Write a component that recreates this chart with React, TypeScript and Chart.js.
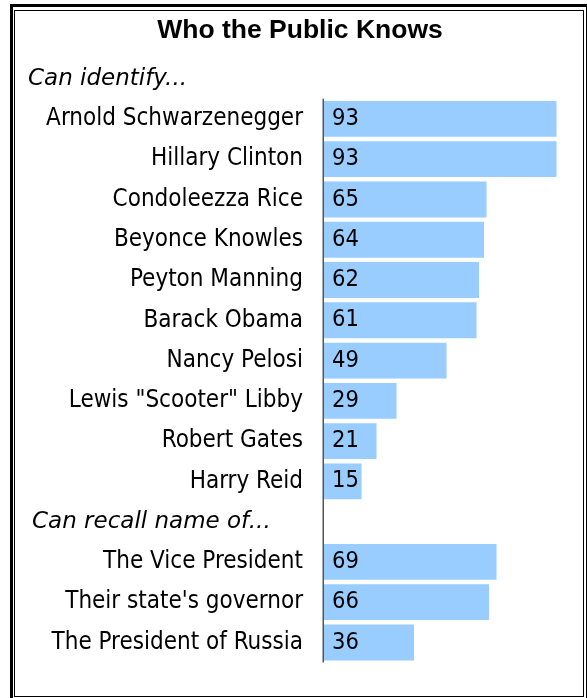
import React, { useEffect, useRef } from "react";
import { Chart, registerables } from "chart.js";

Chart.register(...registerables);

const TITLE = "Who the Public Knows";
const SECTION_HEADERS = ["Can identify...", "Can recall name of..."];
const IDENTIFY_NAMES = [
  "Arnold Schwarzenegger",
  "Hillary Clinton",
  "Condoleezza Rice",
  "Beyonce Knowles",
  "Peyton Manning",
  "Barack Obama",
  "Nancy Pelosi",
  'Lewis "Scooter" Libby',
  "Robert Gates",
  "Harry Reid",
];
const IDENTIFY_VALUES = [93, 93, 65, 64, 62, 61, 49, 29, 21, 15];
const RECALL_NAMES = ["The Vice President", "Their state's governor", "The President of Russia"];
const RECALL_VALUES = [69, 66, 36];

const BAR_COLOR = "#99CCFF";
const LABEL_FONT = '"DejaVu Sans Condensed", "DejaVu Sans"';
const HEADER_FONT = '"DejaVu Sans"';
const TITLE_FONT = '"Liberation Sans", Arial, sans-serif';

// rows: a header row (no bar) before each section
const categories: string[] = ["", ...IDENTIFY_NAMES, "", ...RECALL_NAMES];
const values: (number | null)[] = [null, ...IDENTIFY_VALUES, null, ...RECALL_VALUES];
const headerRows = [0, IDENTIFY_NAMES.length + 1];
const headerX = [28, 32];

const PAD_LEFT = 26;
const PLOT_LEFT = 324;

const headerPlugin = {
  id: "sectionHeaders",
  afterDraw(chart: any) {
    const { ctx } = chart;
    const y = chart.scales.y;
    ctx.save();
    ctx.fillStyle = "#000";
    ctx.font = `italic 23px ${HEADER_FONT}`;
    ctx.textAlign = "left";
    ctx.textBaseline = "middle";
    SECTION_HEADERS.forEach((h, i) => {
      ctx.fillText(h, headerX[i], y.getPixelForValue(headerRows[i]));
    });
    ctx.restore();
  },
};

const valuePlugin = {
  id: "valueLabels",
  afterDatasetsDraw(chart: any) {
    const { ctx } = chart;
    const meta = chart.getDatasetMeta(0);
    ctx.save();
    ctx.fillStyle = "#000";
    ctx.font = `23.5px ${LABEL_FONT}`;
    ctx.textAlign = "left";
    ctx.textBaseline = "middle";
    meta.data.forEach((bar: any, i: number) => {
      const v = values[i];
      if (v == null) return;
      ctx.fillText(String(v), bar.base + 8, bar.y);
    });
    ctx.restore();
  },
};

const axisPlugin = {
  id: "axisLine",
  afterDatasetsDraw(chart: any) {
    const { ctx, chartArea } = chart;
    const x = chart.scales.x.getPixelForValue(0) - 0.75;
    const ys = chart.scales.y;
    const top = (ys.getPixelForValue(0) + ys.getPixelForValue(1)) / 2;
    ctx.save();
    ctx.strokeStyle = "#555";
    ctx.lineWidth = 1.5;
    ctx.beginPath();
    ctx.moveTo(x, top);
    ctx.lineTo(x, chartArea.bottom);
    ctx.stroke();
    ctx.restore();
  },
};

export default function App() {
  const ref = useRef<HTMLCanvasElement>(null);
  useEffect(() => {
    const canvas = ref.current!;
    const chart = new Chart(canvas, {
      type: "bar",
      data: {
        labels: categories,
        datasets: [
          {
            data: values as any,
            backgroundColor: BAR_COLOR,
            borderWidth: 0,
            barPercentage: 0.89,
            categoryPercentage: 1,
          },
        ],
      },
      options: {
        indexAxis: "y",
        responsive: false,
        animation: false,
        devicePixelRatio: 1,
        layout: { padding: { left: PAD_LEFT, right: 13, top: 0, bottom: 35 } },
        scales: {
          x: { display: false, min: 0, max: 100 },
          y: {
            afterFit: (s: any) => {
              s.width = PLOT_LEFT - PAD_LEFT;
            },
            grid: { display: false, drawTicks: false },
            border: { display: false },
            ticks: {
              autoSkip: false,
              padding: 21,
              color: "#000",
              font: { family: LABEL_FONT, size: 24 },
            },
          },
        },
        plugins: {
          legend: { display: false },
          tooltip: { enabled: false },
          title: {
            display: true,
            text: TITLE,
            color: "#000",
            font: { family: TITLE_FONT, size: 26.5, weight: "bold" },
            padding: { top: 15, bottom: 11.7 },
          },
        },
      } as any,
      plugins: [headerPlugin, valuePlugin, axisPlugin],
    });
    return () => chart.destroy();
  }, []);

  return (
    <div
      style={{
        position: "fixed",
        left: 0,
        top: 0,
        width: 587,
        height: 698,
        overflow: "hidden",
        background: "#fff",
      }}
    >
      <div
        style={{
          position: "absolute",
          left: 10,
          top: 4,
          width: 579,
          height: 720,
          border: "3px solid #000",
          boxSizing: "border-box",
        }}
      />
      <div
        style={{
          position: "absolute",
          left: 14,
          top: 10,
          width: 570,
          height: 687,
          border: "1.5px solid #000",
          boxSizing: "border-box",
        }}
      />
      <canvas ref={ref} width={587} height={698} style={{ position: "absolute", left: 0, top: 0 }} />
    </div>
  );
}
